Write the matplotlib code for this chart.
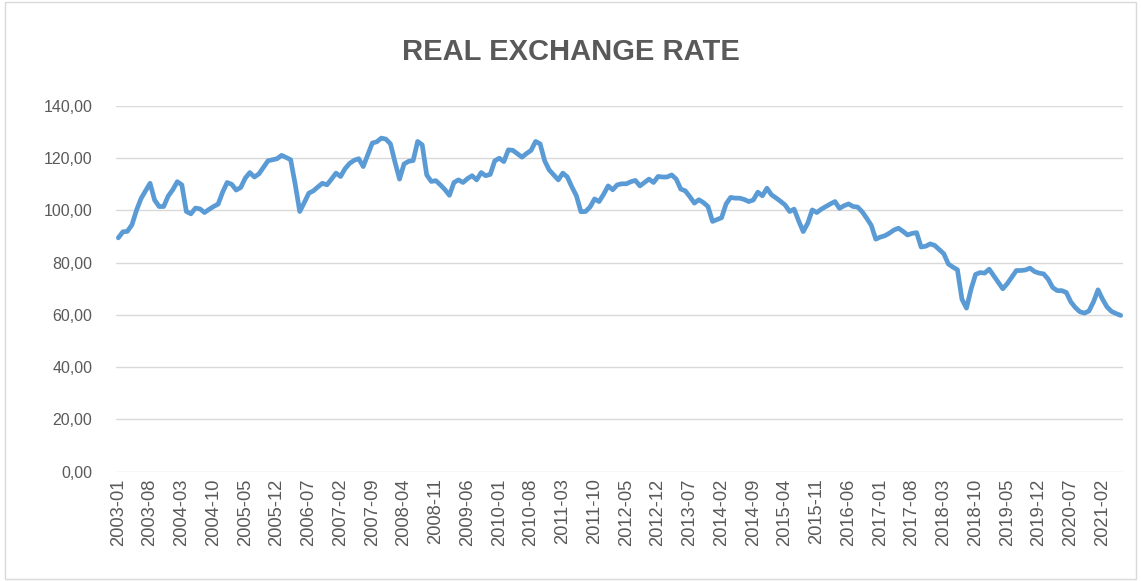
import matplotlib
matplotlib.use("Agg")
import matplotlib.pyplot as plt
from matplotlib.ticker import FuncFormatter, FixedLocator
from matplotlib.patches import Rectangle
import pandas as pd

title = "REAL EXCHANGE RATE"
start_month = "2003-01"
values = [
    89.5, 91.8, 92.0, 94.5, 100.0, 104.5, 107.5, 110.4, 104.0, 101.5,
    101.5, 105.5, 107.9, 111.0, 109.8, 99.6, 98.7, 100.9, 100.6, 99.2,
    100.4, 101.5, 102.4, 107.0, 110.7, 110.0, 107.8, 108.8, 112.4, 114.5,
    112.8, 114.0, 116.5, 119.0, 119.4, 119.8, 121.1, 120.3, 119.4, 110.0,
    99.6, 103.0, 106.6, 107.5, 109.0, 110.4, 109.8, 112.0, 114.3, 113.0,
    116.0, 118.0, 119.2, 119.8, 116.8, 121.3, 125.8, 126.3, 127.7, 127.3,
    125.5, 118.5, 112.0, 117.8, 118.8, 119.1, 126.4, 125.1, 113.6, 111.1,
    111.4, 109.8, 108.0, 105.8, 110.7, 111.7, 110.7, 112.2, 113.3, 111.7,
    114.5, 113.3, 113.8, 119.0, 120.0, 118.7, 123.2, 123.0, 121.7, 120.4,
    121.8, 123.0, 126.4, 125.5, 119.0, 115.5, 113.6, 111.7, 114.3, 112.8,
    109.0, 105.6, 99.5, 99.6, 101.3, 104.4, 103.4, 106.2, 109.4, 107.9,
    109.8, 110.2, 110.2, 111.0, 111.5, 109.4, 110.7, 112.0, 110.7, 113.0,
    112.8, 112.8, 113.6, 112.0, 108.2, 107.5, 105.3, 102.8, 104.1, 103.0,
    101.5, 95.8, 96.5, 97.2, 102.5, 105.0, 104.7, 104.7, 104.2, 103.4,
    104.0, 107.0, 105.6, 108.5, 106.0, 104.8, 103.5, 102.1, 99.6, 100.5,
    96.0, 91.9, 95.1, 100.2, 99.2, 100.5, 101.5, 102.5, 103.4, 100.8,
    101.8, 102.5, 101.5, 101.3, 99.5, 97.0, 94.3, 89.0, 89.8, 90.3,
    91.3, 92.5, 93.2, 92.0, 90.6, 91.2, 91.5, 86.0, 86.3, 87.2,
    86.6, 85.0, 83.4, 79.5, 78.3, 77.3, 66.0, 62.6, 69.8, 75.5,
    76.2, 76.0, 77.5, 75.0, 72.5, 70.0, 72.0, 74.5, 77.0, 77.0,
    77.2, 77.9, 76.6, 76.0, 75.7, 73.7, 70.5, 69.3, 69.3, 68.6,
    65.0, 62.8, 61.2, 60.7, 61.5, 65.0, 69.6, 66.0, 63.0, 61.3,
    60.5, 59.8,
]
months = pd.period_range(start_month, periods=len(values), freq="M").strftime("%Y-%m").tolist()
label_step = 7
y_ticks = [0, 20, 40, 60, 80, 100, 120, 140]

plt.rcParams["font.family"] = ["Liberation Sans", "DejaVu Sans"]

fig = plt.figure(figsize=(11.41, 5.81), dpi=100)
fig.patches.append(Rectangle((0.004, 0.004), 0.992, 0.992, transform=fig.transFigure,
                             fill=False, edgecolor="#D9D9D9", linewidth=1.0))
ax = fig.add_axes([0.1017, 0.1883, 0.8825, 0.6293])

x = list(range(len(values)))
ax.plot(x, values, color="#5B9BD5", linewidth=3.4, solid_joinstyle="round", solid_capstyle="round")

ax.set_xlim(-0.5, len(values) - 0.5)
ax.set_ylim(0, 140)
ax.set_yticks(y_ticks)
ax.yaxis.set_major_formatter(FuncFormatter(lambda v, p: f"{v:.2f}".replace(".", ",")))
ax.grid(axis="y", color="#D9D9D9", linewidth=1.0)
ax.set_axisbelow(True)
for s in ax.spines.values():
    s.set_visible(False)

tick_pos = x[::label_step]
ax.xaxis.set_major_locator(FixedLocator(tick_pos))
ax.set_xticklabels([months[i] for i in tick_pos], rotation=90)
ax.tick_params(axis="both", length=0, colors="#595959")
ax.tick_params(axis="x", pad=5, labelsize=13.2)
ax.tick_params(axis="y", pad=17, labelsize=11.5)

fig.text(0.5, 0.91, title, ha="center", va="center", fontsize=21, fontweight="bold", color="#595959")

fig.savefig("out.png", dpi=100)
